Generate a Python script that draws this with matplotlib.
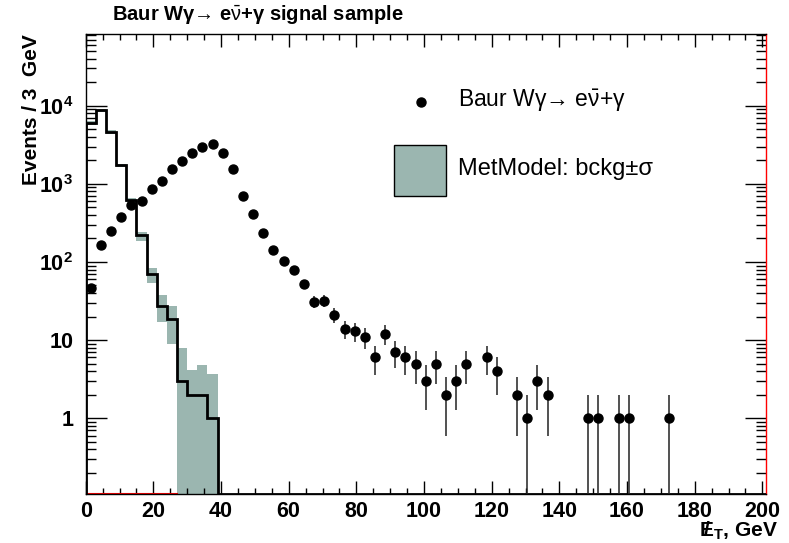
# -----------------------
# Imports
# -----------------------
import numpy as np
import matplotlib
matplotlib.use("Agg")
import matplotlib.pyplot as plt
from matplotlib.ticker import MultipleLocator, LogLocator, NullFormatter
from matplotlib.lines import Line2D
from matplotlib.patches import Rectangle

plt.rcParams['font.family'] = ['Liberation Sans', 'DejaVu Sans']
plt.rcParams['mathtext.fontset'] = 'custom'
plt.rcParams['mathtext.rm'] = 'Liberation Sans'
plt.rcParams['mathtext.it'] = 'Liberation Sans:italic'
plt.rcParams['mathtext.bf'] = 'Liberation Sans:bold'

# -----------------------
# Data (3 GeV bins, 0..201 GeV)
# -----------------------
bin_width = 3
n_bins = 67

# Baur W gamma signal sample (points), one value per bin
signal = [46, 165, 252, 373, 532, 611, 853, 1080, 1556, 1950,
          2495, 2980, 3190, 2495, 1556, 693, 408, 238, 141, 104,
          80, 52, 31, 32, 21, 14, 13, 11, 6, 12,
          7, 6, 5, 3, 5, 2, 3, 5, 0, 6,
          4, 0, 2, 1, 3, 2, 0, 0, 0, 1,
          1, 0, 1, 1, 0, 0, 0, 1, 0, 0,
          0, 0, 0, 0, 0, 0, 0]

# MetModel background (black histogram), bins 0..39 GeV, zero afterwards
bkg = [6000, 8800, 4640, 1767, 615, 219, 70, 27.6, 18.7, 3, 2, 2, 1]
# MetModel background +- sigma band
band_lo = [5700, 8400, 4400, 1640, 585, 185, 53, 17.2, 8.85, 0.01, 0.01, 0.01, 0.01]
band_hi = [6300, 9200, 4880, 1800, 660, 245, 83, 37.8, 27.4, 8.0, 4.15, 4.8, 3.66]

xticks = [0, 20, 40, 60, 80, 100, 120, 140, 160, 180, 200]
yticks = [1, 10, 100, 1000, 10000]
ytick_labels = ['1', '10', r'$\mathbf{10^{2}}$', r'$\mathbf{10^{3}}$', r'$\mathbf{10^{4}}$']

# -----------------------
# Derived arrays
# -----------------------
edges = np.arange(n_bins + 1) * bin_width
centers = edges[:-1] + bin_width / 2
signal = np.array(signal, dtype=float)
ymin, ymax = 0.107, 8.2e4

bkg_full = np.zeros(n_bins)
bkg_full[:len(bkg)] = bkg
bkg_draw = np.where(bkg_full > 0, bkg_full, ymin)
band_edges = edges[:len(bkg) + 1]

mask = signal > 0
sx, sy = centers[mask], signal[mask]
err = np.sqrt(sy)
err_lo = np.minimum(err, sy * 0.9999)

# -----------------------
# Figure
# -----------------------
fig = plt.figure(figsize=(7.89, 5.43), dpi=100)
ax = fig.add_axes([0.1086, 0.0902, 0.8619, 0.8466])

green = '#9bb6b0'
ax.stairs(band_hi, band_edges, baseline=band_lo, fill=True, color=green, zorder=1)
ax.axhline(ymin, xmin=0, xmax=27 / 201, color='red', lw=1.5, zorder=2)
ax.stairs(bkg_draw, edges, color='black', lw=2, zorder=3)
ax.errorbar(sx, sy, yerr=[err_lo, err], fmt='o', color='black', ms=6.5,
            elinewidth=1.1, ecolor='#222222', capsize=0, zorder=4)

ax.set_yscale('log')
ax.set_xlim(0, 201)
ax.set_ylim(ymin, ymax)

ax.set_xticks(xticks)
ax.xaxis.set_minor_locator(MultipleLocator(5))
ax.set_yticks(yticks, ytick_labels)
ax.yaxis.set_minor_locator(LogLocator(base=10, subs=np.arange(2, 10)))
ax.yaxis.set_minor_formatter(NullFormatter())

ax.tick_params(which='both', direction='in', top=True, right=True,
               width=1, labelsize=15.5)
ax.tick_params(axis='x', which='major', length=9.5, pad=5)
ax.tick_params(axis='x', which='minor', length=4.5)
ax.tick_params(axis='y', which='major', length=15, pad=9)
ax.tick_params(axis='y', which='minor', length=7.5)
for lab in ax.get_xticklabels() + ax.get_yticklabels():
    lab.set_fontweight('bold')

for s in ax.spines.values():
    s.set_linewidth(1)
ax.spines['right'].set_color('red')

ax.set_ylabel('Events / 3  GeV', fontsize=15, fontweight='bold', loc='top')
ax.yaxis.set_label_coords(-0.066, 1.0)
xlab = ax.set_xlabel(r'$\mathbf{E}_{\mathbf{T}}$, GeV', fontsize=15,
                     fontweight='bold', loc='right')
ax.xaxis.set_label_coords(1.018, -0.058)

# slash through the E of the x label
fig.canvas.draw()
bb = xlab.get_window_extent()
fs_px = 15 * 100 / 72
fig.text((bb.x0 + 0.36 * fs_px) / 789, (bb.y0 + bb.y1) / 2 / 543 + 0.002, '/',
         fontsize=15, fontweight='bold', ha='center', va='center')

# title
fig.text(112 / 789, 1 - 15 / 543, r'Baur Wγ→ e$\mathrm{\bar{\nu}}$+γ signal sample',
         fontsize=14.5, fontweight='bold', ha='left', va='center')

# legend (drawn by hand, no frame)
fig.add_artist(Line2D([420.7 / 789], [1 - 102 / 543], marker='o', ms=6.5,
                      color='black', linestyle='none', transform=fig.transFigure))
fig.text(458 / 789, 1 - 101 / 543, r'Baur Wγ→ e$\mathrm{\bar{\nu}}$+γ',
         fontsize=16.5, ha='left', va='center')
fig.add_artist(Rectangle((394 / 789, 1 - 196 / 543), 52 / 789, 51 / 543,
                         facecolor=green, edgecolor='black', lw=1,
                         transform=fig.transFigure))
fig.text(458 / 789, 1 - 169 / 543, r'MetModel: bckg±σ',
         fontsize=17, ha='left', va='center')

fig.savefig('out.png', dpi=100, facecolor='white')
